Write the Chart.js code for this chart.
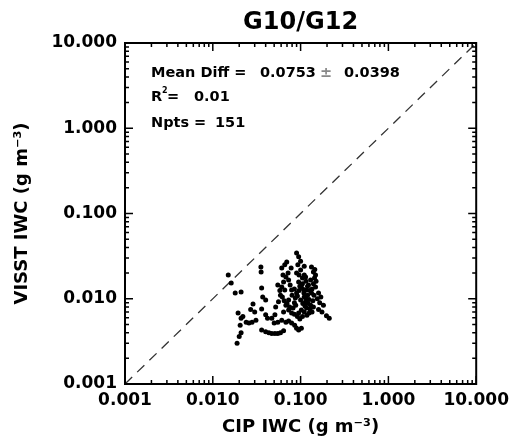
<!DOCTYPE html>
<html>
<head>
<meta charset="utf-8">
<script src="https://cdn.jsdelivr.net/npm/chart.js@4.4.1/dist/chart.umd.min.js"></script>
<style>
  html, body { margin: 0; padding: 0; background: #fff; }
  canvas { display: block; }
</style>
</head>
<body>
<canvas id="chart0" width="515" height="445"></canvas>
<script>
// data (g m-3)
const cipIwc = [
  0.0150, 0.0162, 0.0180, 0.0210, 0.0194, 0.0210, 0.0205, 0.0210, 0.0189, 0.0200,
  0.0220, 0.0240, 0.0258, 0.0280, 0.0310, 0.0287, 0.0300, 0.0270,
  0.0353, 0.0355, 0.0360, 0.0370, 0.0400, 0.0360, 0.0400, 0.0420, 0.0470, 0.0510,
  0.0360, 0.0400, 0.0435, 0.0470, 0.0510, 0.0550, 0.0590, 0.0640,
  0.0520, 0.0560, 0.0590, 0.0610, 0.0640, 0.0630, 0.0610, 0.0660, 0.0695, 0.0680,
  0.0730, 0.0660, 0.0790, 0.0730, 0.0680,
  0.0610, 0.0680, 0.0730, 0.0790, 0.0856, 0.0900, 0.0950, 0.1020,
  0.0900, 0.0950, 0.0900, 0.1000, 0.0950, 0.1020, 0.0900, 0.1090, 0.1000, 0.0880,
  0.1140, 0.1170, 0.1230, 0.1300, 0.1140, 0.1330, 0.1400, 0.1440, 0.1480, 0.1330,
  0.1300, 0.1400, 0.1170, 0.1020, 0.0950, 0.1600, 0.1820, 0.1970, 0.2120, 0.0730,
  0.0790, 0.0640,
  0.0550, 0.0580, 0.0620, 0.0650, 0.0700, 0.0750, 0.0820, 0.0850, 0.0870, 0.0920,
  0.0960, 0.0980, 0.1050, 0.1080, 0.1100, 0.1060, 0.1120, 0.1150, 0.1200, 0.1250,
  0.1220, 0.1280, 0.1350, 0.1250, 0.1180, 0.1100, 0.1050, 0.0980, 0.0920, 0.0850,
  0.1380, 0.1420, 0.1350, 0.1270, 0.1200, 0.1150, 0.1100, 0.1050, 0.1400, 0.1500,
  0.1480, 0.1450, 0.1550, 0.1650, 0.1600, 0.1700, 0.1750, 0.0930, 0.0960, 0.0850,
  0.0800, 0.0760, 0.0720, 0.0780, 0.1000, 0.1100, 0.0500, 0.0550
];
const visstIwc = [
  0.0190, 0.0153, 0.0117, 0.0120, 0.0068, 0.0059, 0.0049, 0.0040, 0.0030, 0.0036,
  0.0062, 0.0053, 0.0052, 0.0053, 0.0056, 0.0087, 0.0070, 0.0075,
  0.0236, 0.0206, 0.0134, 0.0105, 0.0097, 0.0076, 0.0065, 0.0059, 0.0059, 0.0065,
  0.0043, 0.0041, 0.0040, 0.0039, 0.0039, 0.0039, 0.0040, 0.0042,
  0.0080, 0.0092, 0.0110, 0.0137, 0.0157, 0.0190, 0.0230, 0.0250, 0.0270, 0.0180,
  0.0166, 0.0127, 0.0127, 0.0097, 0.0084,
  0.0056, 0.0053, 0.0055, 0.0052, 0.0049, 0.0045, 0.0043, 0.0045,
  0.0345, 0.0310, 0.0200, 0.0217, 0.0157, 0.0137, 0.0117, 0.0117, 0.0097, 0.0084,
  0.0092, 0.0127, 0.0145, 0.0166, 0.0180, 0.0236, 0.0206, 0.0175, 0.0137, 0.0117,
  0.0084, 0.0080, 0.0078, 0.0074, 0.0068, 0.0117, 0.0084, 0.0063, 0.0059, 0.0074,
  0.0068, 0.0070,
  0.0145, 0.0125, 0.0105, 0.0095, 0.0088, 0.0080, 0.0078, 0.0090, 0.0102, 0.0108,
  0.0125, 0.0140, 0.0150, 0.0128, 0.0105, 0.0088, 0.0082, 0.0100, 0.0110, 0.0098,
  0.0088, 0.0076, 0.0070, 0.0068, 0.0064, 0.0070, 0.0062, 0.0058, 0.0062, 0.0066,
  0.0095, 0.0110, 0.0130, 0.0125, 0.0140, 0.0160, 0.0190, 0.0175, 0.0150, 0.0160,
  0.0190, 0.0220, 0.0100, 0.0090, 0.0075, 0.0105, 0.0070, 0.0250, 0.0190, 0.0130,
  0.0110, 0.0145, 0.0200, 0.0230, 0.0275, 0.0240, 0.0052, 0.0053
];
const oneToOne = [0.001, 10];
const majorTicks = [0.001, 0.01, 0.1, 1, 10];

const FONT = "'DejaVu Sans', sans-serif";

// IDL style frame with inward ticks on all four sides + stats text
const framePlugin = {
  id: 'frame',
  afterDraw(chart) {
    const { ctx, chartArea: a, scales } = chart;
    ctx.save();
    ctx.strokeStyle = '#000';
    ctx.lineWidth = 1.5;
    const minors = [];
    majorTicks.slice(0, -1).forEach(m => {
      for (let k = 2; k <= 9; k++) minors.push(m * k);
    });
    const tickSet = (vals, len) => {
      vals.forEach(v => {
        const px = scales.x.getPixelForValue(v);
        const py = scales.y.getPixelForValue(v);
        ctx.beginPath();
        ctx.moveTo(px, a.bottom); ctx.lineTo(px, a.bottom - len);
        ctx.moveTo(px, a.top); ctx.lineTo(px, a.top + len);
        ctx.moveTo(a.left, py); ctx.lineTo(a.left + len, py);
        ctx.moveTo(a.right, py); ctx.lineTo(a.right - len, py);
        ctx.stroke();
      });
    };
    tickSet(majorTicks, 8);
    tickSet(minors, 4);
    ctx.lineWidth = 2;
    ctx.strokeRect(a.left, a.top, a.right - a.left, a.bottom - a.top);

    // stats text
    const x0 = a.left + 26;
    ctx.fillStyle = '#000';
    ctx.textBaseline = 'alphabetic';
    ctx.font = 'bold 14.5px ' + FONT;
    ctx.fillText('Mean Diff =', x0, a.top + 34);
    ctx.fillText('0.0753', x0 + 109, a.top + 34);
    ctx.fillText('0.0398', x0 + 193, a.top + 34);
    ctx.fillStyle = '#888';
    ctx.fillText('\u00b1', x0 + 169, a.top + 34);
    ctx.fillStyle = '#000';
    ctx.fillText('R', x0, a.top + 58);
    ctx.fillText('=', x0 + 16, a.top + 58);
    ctx.fillText('0.01', x0 + 43, a.top + 58);
    ctx.fillText('Npts =', x0, a.top + 84);
    ctx.fillText('151', x0 + 64, a.top + 84);
    ctx.font = 'bold 8px ' + FONT;
    ctx.fillText('2', x0 + 11, a.top + 50);
    ctx.restore();
  }
};

const logAxis = (title, isX) => ({
  type: 'logarithmic',
  min: 0.001,
  max: 10,
  afterBuildTicks: axis => { axis.ticks = majorTicks.map(v => ({ value: v })); },
  afterFit: axis => {
    if (isX) axis.height = 61; else axis.width = 125;
  },
  grid: { display: false, drawTicks: false },
  border: { display: false },
  ticks: {
    color: '#000',
    padding: isX ? 6 : 8,
    maxRotation: 0,
    autoSkip: false,
    font: { family: FONT, size: 17, weight: 'bold' },
    callback: v => Number(v).toFixed(3)
  },
  title: {
    display: true,
    text: title,
    color: '#000',
    font: { family: FONT, size: 18, weight: 'bold' },
    padding: isX ? { top: 0, bottom: 7 } : { top: 12, bottom: 0 }
  }
});

new Chart(document.getElementById('chart0'), {
  type: 'scatter',
  data: {
    datasets: [
      {
        data: cipIwc.map((x, i) => ({ x, y: visstIwc[i] })),
        pointRadius: 2.5,
        pointBackgroundColor: '#000',
        pointBorderWidth: 0,
        showLine: false
      },
      {
        data: oneToOne.map(v => ({ x: v, y: v })),
        showLine: true,
        borderColor: '#333',
        borderWidth: 1.3,
        borderDash: [10, 7],
        pointRadius: 0
      }
    ]
  },
  options: {
    responsive: false,
    animation: false,
    layout: { padding: { top: 0, left: 0, bottom: 0, right: 36 } },
    scales: {
      x: logAxis('CIP IWC (g m\u207b\u00b3)', true),
      y: logAxis('VISST IWC (g m\u207b\u00b3)', false)
    },
    plugins: {
      legend: { display: false },
      tooltip: { enabled: false },
      title: {
        display: true,
        fullSize: false,
        text: 'G10/G12',
        color: '#000',
        font: { family: FONT, size: 24, weight: 'bold' },
        padding: { top: 8, bottom: 6.2 }
      }
    }
  },
  plugins: [framePlugin]
});
</script>
</body>
</html>
